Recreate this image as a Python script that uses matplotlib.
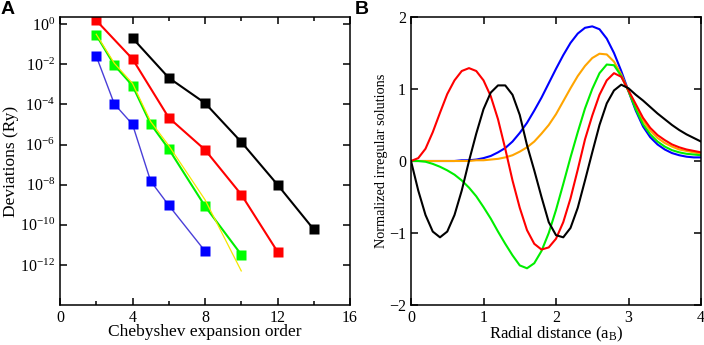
import numpy as np
import matplotlib
matplotlib.use("Agg")
import matplotlib.pyplot as plt
from matplotlib.ticker import LogFormatterMathtext, MultipleLocator, NullLocator

plt.rcParams['font.family'] = ['Liberation Serif', 'DejaVu Serif']
plt.rcParams['mathtext.fontset'] = 'custom'
plt.rcParams['mathtext.rm'] = 'Liberation Serif'
plt.rcParams['mathtext.it'] = 'Liberation Serif:italic'
plt.rcParams['mathtext.bf'] = 'Liberation Serif:bold'

# Panel A: deviations vs Chebyshev expansion order (log10 values)
black_order = [4, 6, 8, 10, 12, 14]
black_log = [-0.69, -2.67, -3.93, -5.87, -8.0, -10.23]
red_order = [2, 4, 6, 8, 10, 12]
red_log = [0.19, -1.73, -4.66, -6.26, -8.49, -11.34]
green_order = [2, 3, 4, 5, 6, 8, 10]
green_log = [-0.54, -2.04, -3.06, -4.97, -6.22, -9.07, -11.49]
blue_order = [2, 3, 4, 5, 6, 8]
blue_log = [-1.59, -3.98, -4.99, -7.82, -9.03, -11.31]
yellow_order = [2, 3, 4, 5, 6, 8, 10]
yellow_log = [-0.50, -1.95, -2.95, -4.85, -6.05, -8.75, -12.3]

# Panel B: normalized irregular solutions vs radial distance
radial = np.round(np.arange(0, 4.01, 0.1), 2)
sol_black = [0, -0.41, -0.75, -0.98, -1.06, -0.98, -0.75, -0.41, 0.0, 0.38,
             0.72, 0.95, 1.05, 1.05, 0.92, 0.64, 0.22, -0.13, -0.5, -0.85,
             -1.03, -1.06, -0.93, -0.65, -0.27, 0.12, 0.5, 0.8, 0.98, 1.06,
             1.01, 0.92, 0.84, 0.75, 0.66, 0.58, 0.5, 0.43, 0.37, 0.32, 0.27]
sol_red = [0, 0.04, 0.17, 0.4, 0.67, 0.93, 1.12, 1.25, 1.29, 1.25,
           1.12, 0.9, 0.58, 0.17, -0.27, -0.65, -0.96, -1.15, -1.23, -1.2,
           -1.08, -0.85, -0.52, -0.12, 0.3, 0.63, 0.92, 1.12, 1.22, 1.17,
           0.98, 0.79, 0.6, 0.46, 0.36, 0.29, 0.23, 0.19, 0.16, 0.14, 0.12]
sol_green = [0, 0, -0.01, -0.04, -0.08, -0.13, -0.19, -0.27, -0.37, -0.49,
             -0.64, -0.8, -0.98, -1.15, -1.31, -1.45, -1.49, -1.42, -1.25, -1.0,
             -0.68, -0.32, 0.05, 0.4, 0.73, 1.0, 1.22, 1.34, 1.33, 1.18,
             0.97, 0.72, 0.51, 0.37, 0.27, 0.2, 0.15, 0.12, 0.1, 0.09, 0.08]
sol_orange = [0, 0, 0, 0, 0, 0, 0, 0, 0, 0.01,
              0.01, 0.02, 0.03, 0.05, 0.08, 0.13, 0.19, 0.27, 0.38, 0.5,
              0.65, 0.83, 1.01, 1.18, 1.32, 1.43, 1.49, 1.48, 1.38, 1.2,
              0.97, 0.75, 0.56, 0.42, 0.32, 0.25, 0.2, 0.16, 0.14, 0.12, 0.1]
sol_blue = [0, 0, 0, 0, 0, 0, 0, 0.01, 0.01, 0.02,
            0.04, 0.07, 0.12, 0.18, 0.27, 0.39, 0.53, 0.7, 0.88, 1.08,
            1.28, 1.47, 1.64, 1.77, 1.85, 1.87, 1.83, 1.7, 1.5, 1.25,
            0.97, 0.7, 0.48, 0.33, 0.23, 0.16, 0.11, 0.08, 0.06, 0.05, 0.05]

fig = plt.figure(figsize=(7.04, 3.45), dpi=100)
axA = fig.add_axes([60 / 704, 1 - 305 / 345, 290 / 704, 288 / 345])
axB = fig.add_axes([411 / 704, 1 - 305 / 345, 290 / 704, 288 / 345])

ms = 7
axA.plot(yellow_order, 10.0 ** np.array(yellow_log), color='#f5e600', lw=0.9, zorder=3)
axA.plot(black_order, 10.0 ** np.array(black_log), color='black', lw=1.5,
         marker='s', ms=ms, mec='none', zorder=2)
axA.plot(red_order, 10.0 ** np.array(red_log), color='#ff0000', lw=1.5,
         marker='s', ms=ms, mec='none', zorder=2)
axA.plot(green_order, 10.0 ** np.array(green_log), color='#00ee00', lw=1.5,
         marker='s', ms=ms, mfc='#00ff00', mec='none', zorder=2)
axA.plot(blue_order, 10.0 ** np.array(blue_log), color='#4a3fd8', lw=1.0,
         marker='s', ms=ms, mfc='#0000ff', mec='none', zorder=2)

axA.set_yscale('log')
axA.set_xlim(0, 16)
axA.set_ylim(1e-14, 2.3)
axA.set_xticks([0, 4, 8, 12, 16])
axA.xaxis.set_minor_locator(MultipleLocator(2))
axA.set_yticks([1e0, 1e-2, 1e-4, 1e-6, 1e-8, 1e-10, 1e-12])
axA.yaxis.set_major_formatter(LogFormatterMathtext())
axA.yaxis.set_minor_locator(NullLocator())
axA.set_xlabel('Chebyshev expansion order', fontsize=12.5, labelpad=-1)
axA.set_ylabel('Deviations (Ry)', fontsize=12.5, labelpad=1)

colors_b = [('black', sol_black), ('#ff0000', sol_red), ('#ffa500', sol_orange),
            ('#00ee00', sol_green), ('#0000ff', sol_blue)]
for c, vals in [colors_b[4], colors_b[2], colors_b[3], colors_b[1], colors_b[0]]:
    axB.plot(radial, vals, color=c, lw=1.5)
axB.set_xlim(0, 4)
axB.set_ylim(-2, 2)
axB.set_xticks([0, 1, 2, 3, 4])
axB.set_yticks([-2, -1, 0, 1, 2])
axB.xaxis.set_minor_locator(NullLocator())
axB.set_xlabel('Radial distance (a$_\\mathrm{B}$)', fontsize=12, labelpad=-1)
axB.set_ylabel('Normalized irregular solutions', fontsize=10.3, labelpad=1)

for ax in (axA, axB):
    for s in ax.spines.values():
        s.set_linewidth(1.1)
    ax.tick_params(which='both', direction='in', top=True, right=True,
                   labelsize=11.5, width=1.1)
    ax.tick_params(which='major', length=5)
    ax.tick_params(which='minor', length=3)

fig.text(1 / 704, 1 - 1 / 345, 'A', fontsize=14, fontweight='bold',
         family='Liberation Sans', va='top', ha='left')
fig.text(355 / 704, 1 - 1 / 345, 'B', fontsize=14, fontweight='bold',
         family='Liberation Sans', va='top', ha='left')

fig.savefig('out.png', dpi=100)
